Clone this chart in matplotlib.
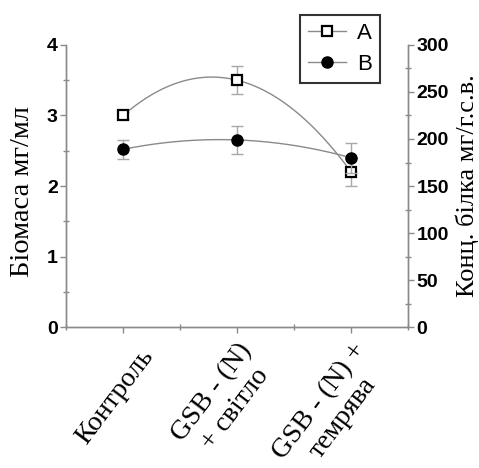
import numpy as np
import matplotlib
matplotlib.use("Agg")
import matplotlib.pyplot as plt
import matplotlib.transforms as mtransforms
from matplotlib.ticker import MultipleLocator

categories = ["Контроль", "GSB - (N)\n+ світло", "GSB - (N) +\nтемрява"]
biomass_A = [3.0, 3.5, 2.2]
biomass_A_err = [0.05, 0.2, 0.2]
protein_B = [189, 199, 180]
protein_B_err = [10, 15, 16]

fig = plt.figure(figsize=(4.79, 4.68), dpi=100)
ax = fig.add_axes([0.138, 0.301, 0.714, 0.603])
ax2 = ax.twinx()

x = np.arange(len(categories))
xs = np.linspace(0, len(categories) - 1, 200)
gray = "#8a8a8a"

# Series A on left axis
pA = np.polyfit(x, biomass_A, 2)
ax.plot(xs, np.polyval(pA, xs), color=gray, lw=1.0, zorder=2)
ax.errorbar(x, biomass_A, yerr=biomass_A_err, fmt="none", ecolor="#a8a8a8",
            elinewidth=1.0, capsize=4, zorder=2)
ax.plot(x, biomass_A, ls="none", marker="s", ms=7, mfc="white", mec="black",
        mew=1.6, zorder=4)

# Series B on right axis
pB = np.polyfit(x, protein_B, 2)
ax2.plot(xs, np.polyval(pB, xs), color=gray, lw=1.0, zorder=2)
ax2.errorbar(x, protein_B, yerr=protein_B_err, fmt="none", ecolor="#a8a8a8",
             elinewidth=1.0, capsize=4, zorder=2)
ax2.plot(x, protein_B, ls="none", marker="o", ms=8, mfc="black", mec="black",
         zorder=4)

ax.set_xlim(-0.5, 2.5)
ax.set_ylim(0, 4)
ax2.set_ylim(0, 300)

ax.yaxis.set_major_locator(MultipleLocator(1))
ax.yaxis.set_minor_locator(MultipleLocator(0.5))
ax2.yaxis.set_major_locator(MultipleLocator(50))
ax2.yaxis.set_minor_locator(MultipleLocator(25))
ax.set_xticks(x)
ax.xaxis.set_minor_locator(MultipleLocator(0.5))

for a in (ax, ax2):
    a.spines["top"].set_visible(False)
    for s in ("left", "right", "bottom"):
        a.spines[s].set_color(gray)
        a.spines[s].set_linewidth(1.0)
    a.tick_params(which="major", direction="out", length=4, color=gray, width=1.0)
    a.tick_params(which="minor", direction="inout", length=4, color=gray, width=1.0)

tick_font = dict(family="Liberation Sans", weight="bold", size=14)
ax.set_yticks([0, 1, 2, 3, 4])
ax.set_yticklabels(["0", "1", "2", "3", "4"], fontdict=tick_font)
ax2.set_yticks([0, 50, 100, 150, 200, 250, 300])
ax2.set_yticklabels([str(v) for v in [0, 50, 100, 150, 200, 250, 300]], fontdict=tick_font)
ax.tick_params(axis="y", pad=2)
ax2.tick_params(axis="y", pad=2)

xlabels = ax.set_xticklabels(categories, family="Liberation Serif", size=20,
                             rotation=53, ha="right", rotation_mode="anchor",
                             multialignment="center", linespacing=1.2)
ax.tick_params(axis="x", pad=4)
lbl0 = xlabels[0]
lbl0.set_transform(lbl0.get_transform() +
                   mtransforms.ScaledTranslation(16 / 100, -6 / 100, fig.dpi_scale_trans))

ax.set_ylabel("Біомаса мг/мл", family="Liberation Serif", size=20.5)
ax.yaxis.set_label_coords(-0.09, 0.48)
ax2.set_ylabel("Конц. білка мг/г.с.в.", family="Liberation Serif", size=19)
ax2.yaxis.set_label_coords(1.14, 0.5)

hA, = ax.plot([], [], color=gray, lw=1.0, marker="s", ms=7, mfc="white",
              mec="black", mew=1.6)
hB, = ax.plot([], [], color=gray, lw=1.0, marker="o", ms=8, mfc="black",
              mec="black")
leg = fig.legend([hA, hB], ["A", "B"], loc="upper left",
                 bbox_to_anchor=(0.627, 0.968), borderaxespad=0,
                 frameon=True, fancybox=False,
                 edgecolor="black", prop=dict(family="Liberation Sans", size=16),
                 handlelength=1.7, handletextpad=0.5, borderpad=0.35,
                 labelspacing=0.45)
leg.get_frame().set_linewidth(1.5)

fig.savefig("out.png", dpi=100)
